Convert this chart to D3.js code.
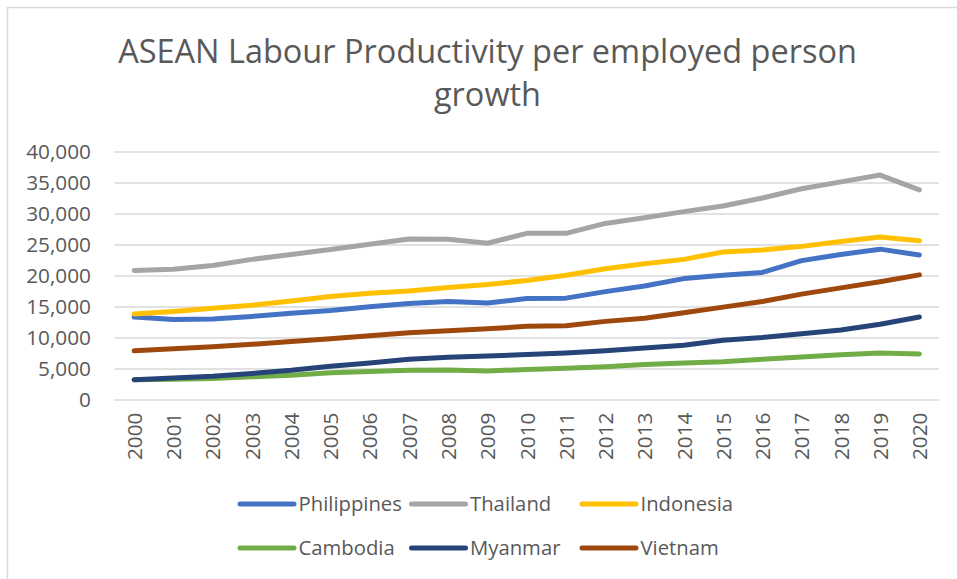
<!DOCTYPE html>
<html>
<head>
<meta charset="utf-8">
<script src="https://cdn.jsdelivr.net/npm/d3@7"></script>
<style>
  html, body { margin: 0; padding: 0; background: #fff; }
  svg { display: block; }
  text { font-family: "Open Sans", "Noto Sans", sans-serif; fill: #595959; }
</style>
</head>
<body>
<svg id="chart" width="957" height="579"></svg>
<script>
const years = ["2000","2001","2002","2003","2004","2005","2006","2007","2008","2009","2010",
               "2011","2012","2013","2014","2015","2016","2017","2018","2019","2020"];
const yTicks = [0, 5000, 10000, 15000, 20000, 25000, 30000, 35000, 40000];
const seriesNames = ["Philippines", "Thailand", "Indonesia", "Cambodia", "Myanmar", "Vietnam"];
const philippines = [13300,12900,13000,13400,13900,14350,14950,15500,15800,15550,16300,16350,17400,18300,19500,20050,20500,22400,23400,24250,23300];
const thailand    = [20800,21000,21600,22600,23400,24200,25050,25900,25850,25200,26800,26800,28400,29300,30300,31200,32500,34000,35100,36200,33800];
const indonesia   = [13800,14200,14700,15200,15900,16600,17150,17500,18050,18550,19200,20050,21100,21900,22600,23800,24100,24700,25500,26200,25600];
const cambodia    = [3200,3250,3400,3650,3900,4300,4500,4700,4750,4600,4850,5050,5300,5650,5900,6100,6500,6850,7200,7500,7350];
const myanmar     = [3200,3450,3750,4200,4700,5350,5900,6500,6800,7000,7250,7500,7850,8300,8750,9550,10000,10600,11200,12150,13300];
const vietnam     = [7850,8200,8500,8900,9350,9800,10300,10750,11100,11400,11800,11900,12600,13100,14000,14900,15800,17000,18000,19000,20100];
const titleLines = ["ASEAN Labour Productivity per employed person", "growth"];

const seriesValues = [philippines, thailand, indonesia, cambodia, myanmar, vietnam];
const colors = ["#4472C4", "#A5A5A5", "#FFC000", "#70AD47", "#264478", "#9E480E"];

const svg = d3.select("#chart");

// outer chart border (only left/top visible in the crop)
svg.append("rect")
  .attr("x", 7.5).attr("y", 7.5).attr("width", 1000).attr("height", 1000)
  .attr("fill", "none").attr("stroke", "#d9d9d9").attr("stroke-width", 1.5);

const plot = { left: 114.5, right: 939, top: 151.5, bottom: 399.5 };

const x = d3.scalePoint().domain(years).range([plot.left, plot.right]).padding(0.5);
const y = d3.scaleLinear().domain([0, 40000]).range([plot.bottom, plot.top]);

// title
const title = svg.append("g");
titleLines.forEach((t, i) => {
  title.append("text")
    .attr("x", 487.5).attr("y", i === 0 ? 63 : 106)
    .attr("text-anchor", "middle")
    .style("font-size", "31px")
    .text(t);
});
// fit first line width to reference
const t0 = title.select("text").node();
const w0 = t0.getComputedTextLength();
const fs = 31 * 739 / w0;
title.selectAll("text").style("font-size", fs + "px");

// gridlines
const yAxis = d3.axisLeft(y).tickValues(yTicks).tickSize(-(plot.right - plot.left))
  .tickFormat(d3.format(","));
const gy = svg.append("g").attr("transform", `translate(${plot.left},0)`).call(yAxis);
gy.select(".domain").remove();
gy.selectAll(".tick line").attr("stroke", "#d9d9d9").attr("stroke-width", 1.5);
gy.selectAll(".tick text")
  .attr("x", -23.5)
  .attr("dy", "0.35em")
  .style("font-size", "20.8px")
  .style("font-family", "'Open Sans', sans-serif")
  .attr("fill", "#595959");

// x axis labels
const xAxis = d3.axisBottom(x).tickSize(0);
const gx = svg.append("g").attr("transform", `translate(0,${plot.bottom})`).call(xAxis);
gx.select(".domain").remove();
gx.selectAll(".tick text")
  .attr("transform", "rotate(-90)")
  .attr("text-anchor", "end")
  .attr("x", -13)
  .attr("y", 0)
  .attr("dy", "0.35em")
  .style("font-size", "20.8px")
  .style("font-family", "'Open Sans', sans-serif")
  .attr("fill", "#595959");

// lines
const line = d3.line().x((d, i) => x(years[i])).y(d => y(d));
seriesValues.forEach((vals, k) => {
  svg.append("path")
    .datum(vals)
    .attr("d", line)
    .attr("fill", "none")
    .attr("stroke", colors[k])
    .attr("stroke-width", 5)
    .attr("stroke-linejoin", "round")
    .attr("stroke-linecap", "round");
});

// legend
const legendPos = [
  { x: 240, y: 504 }, { x: 411.5, y: 504 }, { x: 582, y: 504 },
  { x: 240, y: 548 }, { x: 411.5, y: 548 }, { x: 582, y: 548 }
];
seriesNames.forEach((name, k) => {
  const g = svg.append("g").attr("transform", `translate(${legendPos[k].x},${legendPos[k].y})`);
  g.append("line").attr("x1", 0).attr("x2", 54).attr("y1", 0).attr("y2", 0)
    .attr("stroke", colors[k]).attr("stroke-width", 5).attr("stroke-linecap", "round");
  g.append("text").attr("x", 58.5).attr("y", 0).attr("dy", "0.35em")
    .style("font-size", "20.3px").text(name);
});
</script>
</body>
</html>
